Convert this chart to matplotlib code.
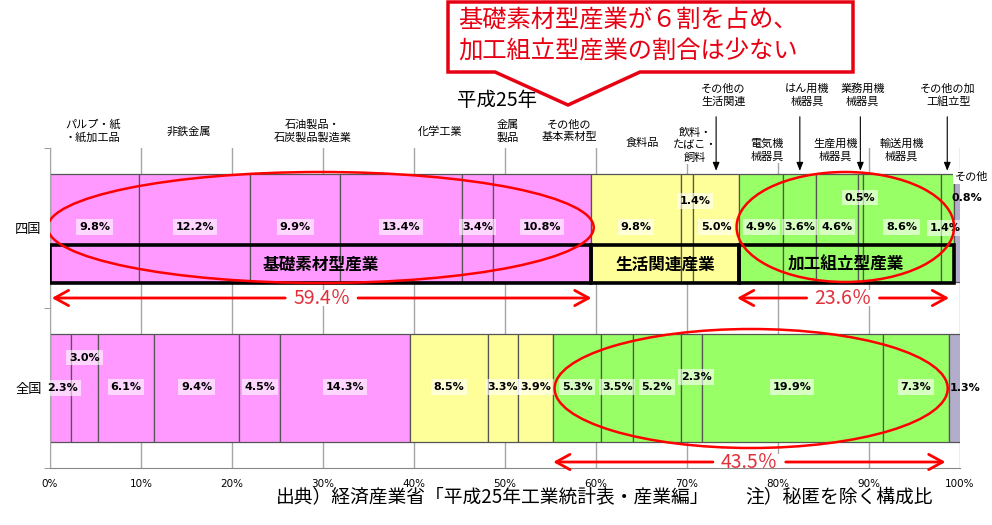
import matplotlib
matplotlib.use("Agg")
import matplotlib.pyplot as plt
import matplotlib.transforms as mtransforms
from matplotlib.patches import Rectangle, Ellipse, Polygon
import numpy as np

plt.rcParams['font.family'] = ['Noto Sans CJK JP', 'DejaVu Sans']

# data
regions = ['四国', '全国']
industries = ['パルプ・紙\n・紙加工品', '非鉄金属', '石油製品・\n石炭製品製造業', '化学工業',
              '金属\n製品', 'その他の\n基本素材型', '食料品', '飲料・\nたばこ・\n飼料',
              'その他の\n生活関連', '電気機\n械器具', 'はん用機\n械器具', '生産用機\n械器具',
              '業務用機\n械器具', '輸送用機\n械器具', 'その他の加\n工組立型', 'その他']
shikoku = [9.8, 12.2, 9.9, 13.4, 3.4, 10.8, 9.8, 1.4, 5.0, 4.9, 3.6, 4.6, 0.5, 8.6, 1.4, 0.8]
zenkoku = [2.3, 3.0, 6.1, 9.4, 4.5, 14.3, 8.5, 3.3, 3.9, 5.3, 3.5, 5.2, 2.3, 19.9, 7.3, 1.3]
group_names = ['基礎素材型産業', '生活関連産業', '加工組立型産業', 'その他']
group_of = [0, 0, 0, 0, 0, 0, 1, 1, 1, 2, 2, 2, 2, 2, 2, 3]
share_labels = ['59.4％', '23.6％', '43.5％']

colors = ['#FF99FF', '#FFFF99', '#99FF66', '#B3ADCC']

W, H = 992, 525
fig = plt.figure(figsize=(W / 100, H / 100), dpi=100)
px = mtransforms.Affine2D().scale(1 / W, -1 / H).translate(0, 1) + fig.transFigure

# axes: 0% at x=50px, 100% at 960px; row 0 centred at 228px, 160px per row
ax = fig.add_axes([50 / W, 1 - 468 / H, 910 / W, 320 / H])
ax.set_xlim(0, 100)
ax.set_ylim(1.5, -0.5)
ypx = 160.0


def y_of(p):
    return (p - 228) / ypx


ax.set_xticks(np.arange(0, 101, 10))
ax.set_xticklabels([f'{v}%' for v in range(0, 101, 10)], fontsize=7.5, family='DejaVu Sans')
ax.tick_params(axis='x', length=0, pad=8)
ax.set_yticks([0, 1])
ax.set_yticklabels(regions, fontsize=9.5)
ax.tick_params(axis='y', length=0, pad=6)
ax.set_yticks([-0.5, 0.5, 1.5], minor=True)
ax.tick_params(axis='y', which='minor', length=4, color='#888888')
ax.grid(axis='x', color='#A6A6A6', lw=1)
ax.set_axisbelow(True)
for s in ['top', 'right']:
    ax.spines[s].set_visible(False)
ax.spines['left'].set_color('#A6A6A6')
ax.spines['bottom'].set_color('#888888')

bar_h = 0.68
starts = {}
for row, vals in enumerate([shikoku, zenkoku]):
    lefts = np.concatenate([[0], np.cumsum(vals)[:-1]])
    starts[row] = lefts
    cols = [colors[g] for g in group_of]
    ax.barh(row, vals, left=lefts, height=bar_h, color=cols,
            edgecolor='#555555', lw=0.9, zorder=2)

# value labels (override positions for thin segments)
over = {
    (0, 7): (70.9, -0.17), (0, 12): (89.0, -0.19), (0, 14): (98.4, 0),
    (0, 15): (100.8, -0.19),
    (1, 0): (1.4, 0), (1, 1): (None, -0.19), (1, 12): (71.0, -0.07),
    (1, 15): (100.6, 0),
}
for row, vals in enumerate([shikoku, zenkoku]):
    for i, v in enumerate(vals):
        x = starts[row][i] + v / 2
        y = row - 0.005
        if (row, i) in over:
            ox, oy = over[(row, i)]
            x = ox if ox is not None else x
            y = row + oy
        bg = dict(boxstyle='square,pad=0.25', fc='white', ec='none', alpha=0.6)
        if i == 15:
            bg = dict(boxstyle='square,pad=0.1', fc='white', ec='none', alpha=0.0)
        ax.text(x, y, f'{v:.1f}%', ha='center', va='center', fontsize=8,
                fontweight='bold', family='DejaVu Sans', bbox=bg, zorder=5)

# group boxes on the 四国 bar
sums = np.cumsum(shikoku)
g_start, g_end = [], []
for g in range(3):
    idx = [i for i, gg in enumerate(group_of) if gg == g]
    g_start.append(starts[0][idx[0]])
    g_end.append(sums[idx[-1]])
for g in range(3):
    ax.add_patch(Rectangle((g_start[g], y_of(245)), g_end[g] - g_start[g], y_of(283) - y_of(245),
                           fill=False, ec='black', lw=2.6, zorder=4))
    ax.text((g_start[g] + g_end[g]) / 2, y_of(265), group_names[g], ha='center', va='center',
            fontsize=12, fontweight='bold', zorder=5)

# category labels above the bars
lab_x = [4.7, 15.2, 28.9, 42.9, 50.3, 57.1, 65.1, 70.9, 74.0, 78.8, 83.2, 86.3, 89.3, 93.6, 98.7, 101.3]
lab_y = [131, 131, 131, 131, 131, 131, 143, 145, 95, 150, 95, 150, 95, 150, 95, 177]
arrowed = [8, 10, 12, 14]
for i, name in enumerate(industries):
    ax.text(lab_x[i], y_of(lab_y[i]), name, ha='center', va='center', fontsize=8,
            linespacing=1.3, clip_on=False, zorder=6,
            bbox=dict(boxstyle='square,pad=0.15', fc='white', ec='none'))
for i in arrowed:
    x = starts[0][i] + shikoku[i] / 2
    ax.annotate('', xy=(x, -bar_h / 2), xytext=(x, y_of(114)),
                arrowprops=dict(arrowstyle='-|>,head_length=0.5,head_width=0.2',
                                color='black', lw=0.8), annotation_clip=False, zorder=6)

# red ellipses
red = '#FF0000'
nat_sums = np.cumsum(zenkoku)
e_specs = [
    ((g_start[0] + g_end[0]) / 2, y_of(227.5), 60.0, 111 / ypx),
    ((g_start[2] + g_end[2]) / 2 - 0.1, y_of(227), 23.9, 110 / ypx),
    ((starts[1][9] + nat_sums[14]) / 2, y_of(388.5), 43.2, 119 / ypx),
]
for cx, cy, w, h in e_specs:
    ax.add_patch(Ellipse((cx, cy), w, h, fill=False, ec=red, lw=1.8, zorder=7))

# share arrows, split around the label
spans = [(g_start[0] + 0.2, g_end[0], y_of(298)),
         (g_start[2] - 0.2, g_end[2] - 0.5, y_of(298)),
         (starts[1][9], nat_sums[14] - 0.4, y_of(462))]
gap = 4.0
for (x0, x1, yy), lab in zip(spans, share_labels):
    xm = (x0 + x1) / 2
    for tip, tail in [(x0, xm - gap), (x1, xm + gap)]:
        ax.annotate('', xy=(tip, yy), xytext=(tail, yy),
                    arrowprops=dict(arrowstyle='->,head_length=1.0,head_width=0.55',
                                    color=red, lw=2, shrinkA=0, shrinkB=0), zorder=7)
    ax.add_patch(Rectangle((xm - gap + 0.5, yy - 8 / ypx), 2 * gap - 1, 16 / ypx,
                           fc='white', ec='none', zorder=7.5))
    ax.text(xm, yy, lab, ha='center', va='center', fontsize=14, color='#E0303A', zorder=8)

# title and callout
fig.text(497, 100, '平成25年', transform=px, ha='center', va='center', fontsize=14)
callout = [(448, 2), (853, 2), (853, 72), (640, 72), (568, 105), (495, 72), (448, 72)]
fig.patches.append(Polygon(callout, closed=True, transform=px, fc='white', ec='#E60012',
                           lw=2.5, zorder=10))
fig.text(458, 20, '基礎素材型産業が６割を占め、', transform=px, ha='left', va='center',
         fontsize=17.5, color='#E60012', zorder=11)
fig.text(458, 52, '加工組立型産業の割合は少ない', transform=px, ha='left', va='center',
         fontsize=17.5, color='#E60012', zorder=11)

# footer
fig.text(276, 498, '出典）経済産業省「平成25年工業統計表・産業編」', transform=px,
         ha='left', va='center', fontsize=13.5)
fig.text(745, 498, '注）秘匿を除く構成比', transform=px, ha='left', va='center', fontsize=13.5)

fig.savefig('out.png', dpi=100)
